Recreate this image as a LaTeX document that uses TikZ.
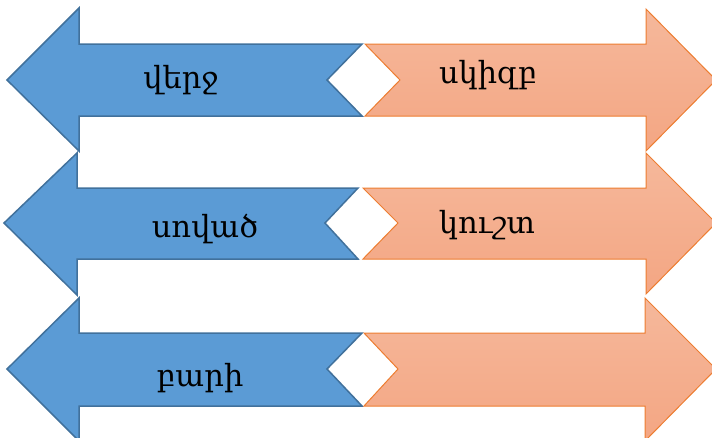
\documentclass[tikz,border=0pt]{standalone}
\usepackage{fontspec}
\newfontfamily\armfont{DejaVu Serif}
\definecolor{blueF}{HTML}{5B9BD5}
\definecolor{blueD}{HTML}{41719C}
\definecolor{orT}{HTML}{F5B89B}
\definecolor{orB}{HTML}{F4A683}
\definecolor{orD}{HTML}{ED7D31}
\begin{document}
\begin{tikzpicture}[x=1pt,y=-1pt,
  bluearrow/.style={fill=blueF,draw=blueD,line width=1.5pt,line join=miter},
  orangearrow/.style={top color=orT,bottom color=orB,draw=orD,line width=1pt,line join=miter},
  lbl/.style={font=\armfont\fontsize{30.5}{34}\selectfont,anchor=base,inner sep=0pt,text=black}]
\useasboundingbox (0,0) rectangle (712,437);
% row 1
\draw[bluearrow] (7,80) -- (79,8) -- (79,44) -- (362,44) -- (327,80) -- (362,116) -- (79,116) -- (79,151) -- cycle;
\draw[orangearrow] (365,44) -- (646,44) -- (646,9) -- (716,80) -- (646,151) -- (646,116) -- (365,116) -- (400,80) -- cycle;
% row 2
\draw[bluearrow] (4,223) -- (77,153) -- (77,188) -- (358,188) -- (325,223) -- (358,259) -- (77,259) -- (77,295) -- cycle;
\draw[orangearrow] (363,188) -- (646,188) -- (646,153) -- (716,223) -- (646,294) -- (646,259) -- (363,259) -- (398,223) -- cycle;
% row 3
\draw[bluearrow] (7,369) -- (79,298) -- (79,333) -- (362,333) -- (327,369) -- (362,406) -- (79,406) -- (79,441) -- cycle;
\draw[orangearrow] (364,333) -- (645,333) -- (645,298) -- (716,369) -- (645,441) -- (645,406) -- (364,406) -- (398,369) -- cycle;
% labels
\node[lbl] (l1) at (181,88) {վերջ};
\node[lbl] (r1) at (488,83) {սկիզբ};
\node[lbl] (l2) at (205,237) {սոված};
\node[lbl] (r2) at (487,233) {կուշտ};
\node[lbl] (l3) at (200,386) {բարի};
\end{tikzpicture}
\end{document}
